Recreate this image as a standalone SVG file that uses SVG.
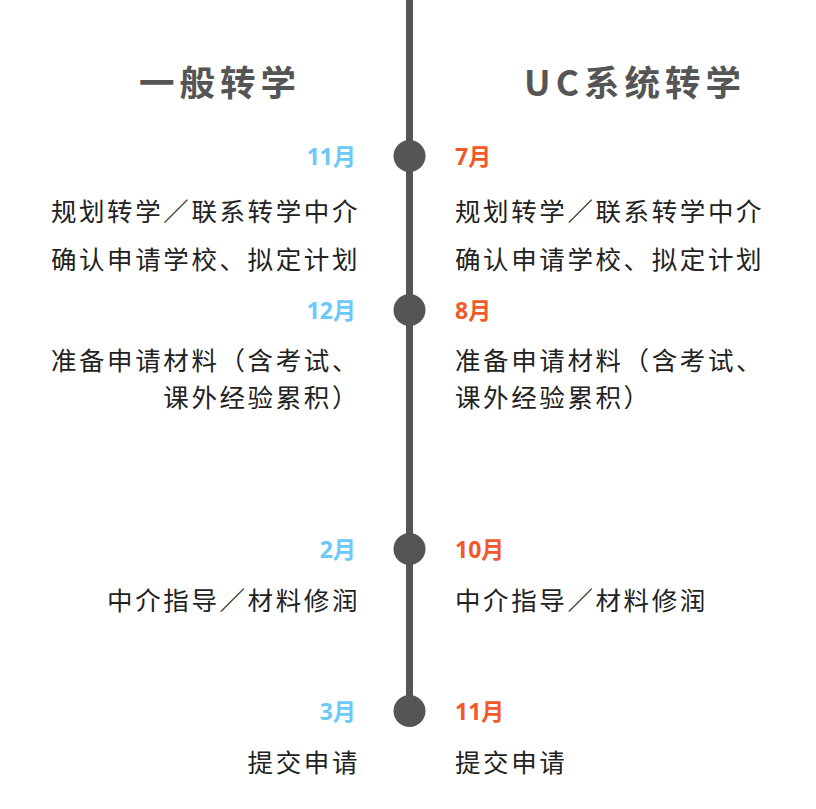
<svg xmlns="http://www.w3.org/2000/svg" width="816" height="809" viewBox="0 0 816 809">
<style>
.title{font-family:"Noto Sans CJK SC","Noto Sans",sans-serif;font-weight:bold;font-size:35.5px;fill:#555;letter-spacing:5px}
.mon{font-family:"Noto Sans","Noto Sans CJK SC",sans-serif;font-weight:bold;font-size:23px}
.l{fill:#6cc9f7}
.r{fill:#f05a2a}
.body{font-family:"Noto Sans CJK SC",sans-serif;font-size:25.5px;fill:#222;letter-spacing:2.6px}
.dot{fill:#555}
</style>
<rect width="816" height="809" fill="#fff"/>
<g id="timeline">
<line x1="409.5" y1="0" x2="409.5" y2="711" stroke="#555" stroke-width="7"/>
</g>
<g id="titles">
<text class="title" x="220" y="96" text-anchor="middle">一般转学</text>
<text class="title" x="635" y="96" text-anchor="middle">UC系统转学</text>
</g>
<g id="step1">
<circle class="dot" cx="409.5" cy="156" r="16"/>
<text class="mon l" x="356" y="165" text-anchor="end">11月</text>
<text class="mon r" x="455" y="165">7月</text>
<text class="body" x="360" y="221" text-anchor="end">规划转学／联系转学中介</text>
<text class="body" x="360" y="269" text-anchor="end">确认申请学校、拟定计划</text>
<text class="body" x="455" y="221">规划转学／联系转学中介</text>
<text class="body" x="455" y="269">确认申请学校、拟定计划</text>
</g>
<g id="step2">
<circle class="dot" cx="409.5" cy="310" r="16"/>
<text class="mon l" x="356" y="319" text-anchor="end">12月</text>
<text class="mon r" x="455" y="319">8月</text>
<text class="body" x="360" y="370" text-anchor="end">准备申请材料（含考试、</text>
<text class="body" x="360" y="407" text-anchor="end">课外经验累积）</text>
<text class="body" x="455" y="370">准备申请材料（含考试、</text>
<text class="body" x="455" y="407">课外经验累积）</text>
</g>
<g id="step3">
<circle class="dot" cx="409.5" cy="549" r="16"/>
<text class="mon l" x="356" y="558" text-anchor="end">2月</text>
<text class="mon r" x="455" y="558">10月</text>
<text class="body" x="360" y="610" text-anchor="end">中介指导／材料修润</text>
<text class="body" x="455" y="610">中介指导／材料修润</text>
</g>
<g id="step4">
<circle class="dot" cx="409.5" cy="711" r="16"/>
<text class="mon l" x="356" y="720" text-anchor="end">3月</text>
<text class="mon r" x="455" y="720">11月</text>
<text class="body" x="360" y="772" text-anchor="end">提交申请</text>
<text class="body" x="455" y="772">提交申请</text>
</g>
</svg>
